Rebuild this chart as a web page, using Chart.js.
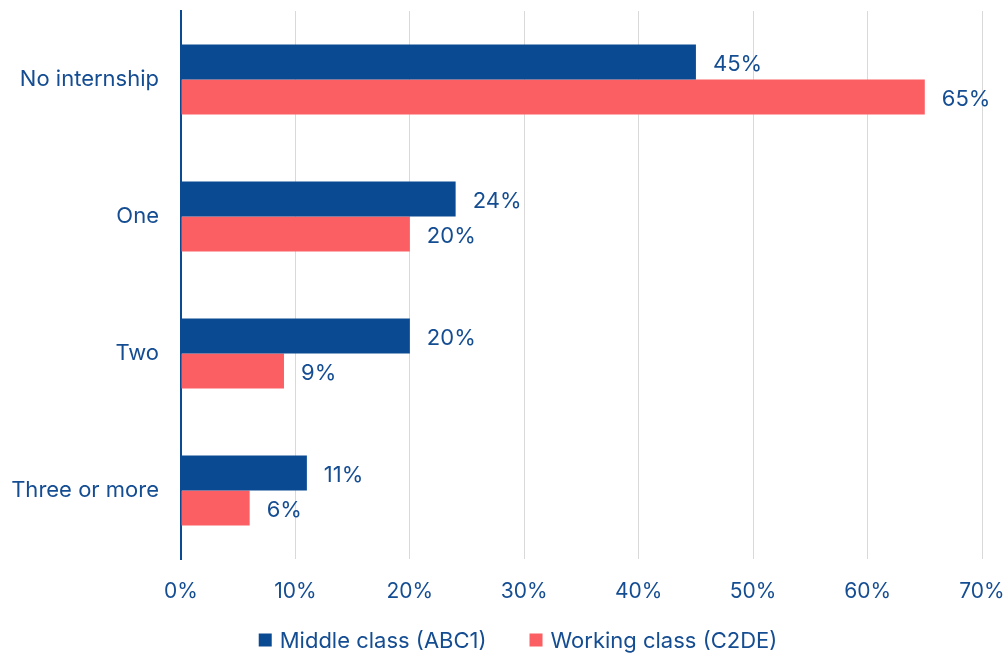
<!DOCTYPE html>
<html lang="en">
<head>
  <meta charset="UTF-8">
  <title>Internships by social class</title>
  <script src="https://cdn.jsdelivr.net/npm/chart.js@4.4.0/dist/chart.umd.min.js"></script>
  <style>
    html, body { margin: 0; padding: 0; background: #ffffff; }
    canvas { display: block; }
  </style>
</head>
<body>
  <canvas id="chart" width="1008" height="655"></canvas>

  <script>
    // data -- share of graduates by number of internships
    const categories = ['No internship', 'One', 'Two', 'Three or more'];
    const middleClass = [45, 24, 20, 11];
    const workingClass = [65, 20, 9, 6];
    const xTicks = [0, 10, 20, 30, 40, 50, 60, 70];

    const navy = '#0a4a92';
    const coral = '#fc5f63';
    const textColor = '#154d92';
    const fontFamily = 'Inter, "Noto Sans", sans-serif';

    // value labels at the end of each bar
    const barLabels = {
      id: 'barLabels',
      afterDatasetsDraw(chart) {
        const ctx = chart.ctx;
        ctx.save();
        ctx.font = '400 22px ' + fontFamily;
        ctx.fillStyle = textColor;
        ctx.textAlign = 'left';
        ctx.textBaseline = 'middle';
        chart.data.datasets.forEach((ds, i) => {
          chart.getDatasetMeta(i).data.forEach((bar, j) => {
            ctx.fillText(ds.data[j] + '%', bar.x + 17, bar.y + 2);
          });
        });
        ctx.restore();
      }
    };

    // legend row under the axis: small square + label, items spaced wide apart
    const bottomLegend = {
      id: 'bottomLegend',
      afterDraw(chart) {
        const ctx = chart.ctx;
        const box = 13, gap = 8, spacing = 43;
        ctx.save();
        ctx.font = '400 22px ' + fontFamily;
        ctx.textAlign = 'left';
        ctx.textBaseline = 'middle';
        const items = chart.data.datasets.map(ds => ({
          text: ds.label,
          color: ds.backgroundColor,
          width: box + gap + ctx.measureText(ds.label).width
        }));
        const total = items.reduce((s, it) => s + it.width, 0) + spacing * (items.length - 1);
        const centerX = 518;
        const y = 641;
        let x = centerX - total / 2;
        items.forEach(it => {
          ctx.fillStyle = it.color;
          ctx.fillRect(x, y - box / 2 - 1, box, box);
          ctx.fillStyle = textColor;
          ctx.fillText(it.text, x + box + gap, y);
          x += it.width + spacing;
        });
        ctx.restore();
      }
    };

    const elChart = document.getElementById('chart').getContext('2d');
    const myChart = new Chart(elChart, {
      type: 'bar',
      data: {
        labels: categories,
        datasets: [{
          label: 'Middle class (ABC1)',
          data: middleClass,
          backgroundColor: navy,
          borderWidth: 0
        }, {
          label: 'Working class (C2DE)',
          data: workingClass,
          backgroundColor: coral,
          borderWidth: 0
        }]
      },
      options: {
        indexAxis: 'y',
        responsive: false,
        animation: false,
        datasets: {
          bar: { categoryPercentage: 0.51, barPercentage: 1 }
        },
        layout: { padding: { top: 11, right: 26, left: 0, bottom: 36 } },
        scales: {
          x: {
            min: 0,
            max: 70,
            afterBuildTicks: scale => { scale.ticks = xTicks.map(v => ({ value: v })); },
            afterFit: scale => {
              scale.height = 60;
              scale.paddingLeft = 0;
              scale.paddingRight = 0;
            },
            grid: { color: '#d9d9d9', lineWidth: 1, drawTicks: false },
            border: { display: false },
            ticks: {
              padding: 20,
              color: textColor,
              font: { family: fontFamily, size: 21 },
              callback: value => value + '%'
            }
          },
          y: {
            afterFit: scale => {
              scale.width = 181;
              scale.paddingTop = 0;
              scale.paddingBottom = 0;
            },
            grid: { display: false, drawTicks: false },
            border: { display: true, color: navy, width: 2 },
            ticks: {
              padding: 22,
              color: textColor,
              font: { family: fontFamily, size: 22 }
            }
          }
        },
        plugins: {
          legend: { display: false },
          tooltip: { enabled: false }
        }
      },
      plugins: [barLabels, bottomLegend]
    });
  </script>
</body>
</html>
